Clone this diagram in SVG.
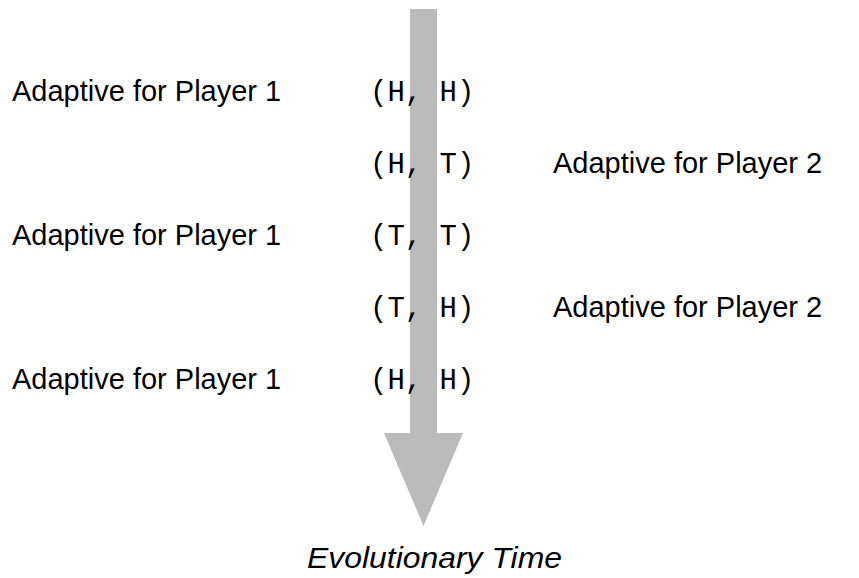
<svg xmlns="http://www.w3.org/2000/svg" width="859" height="578" viewBox="0 0 859 578">
<style>
.lbl{font-family:"Liberation Sans",Arial,sans-serif;font-size:29px;fill:#000}
.pair{font-family:"Liberation Mono","Courier New",monospace;font-size:29px;fill:#000}
.time{font-family:"Liberation Sans",Arial,sans-serif;font-size:30px;font-style:italic;fill:#000}
</style>
<rect width="859" height="578" fill="#fff"/>
<g id="arrow">
<rect x="410" y="9" width="27" height="425" fill="#bbbbbb"/>
<polygon points="384,433 463,433 423.5,526" fill="#bbbbbb"/>
</g>
<g id="connectors"></g>
<g id="row1"><text class="lbl" x="12" y="101">Adaptive for Player 1</text><text class="pair" x="370" y="101">(H, H)</text></g>
<g id="row2"><text class="pair" x="370" y="173">(H, T)</text><text class="lbl" x="553" y="173">Adaptive for Player 2</text></g>
<g id="row3"><text class="lbl" x="12" y="245">Adaptive for Player 1</text><text class="pair" x="370" y="245">(T, T)</text></g>
<g id="row4"><text class="pair" x="370" y="317">(T, H)</text><text class="lbl" x="553" y="317">Adaptive for Player 2</text></g>
<g id="row5"><text class="lbl" x="12" y="389">Adaptive for Player 1</text><text class="pair" x="370" y="389">(H, H)</text></g>
<g id="caption"><text class="time" x="307" y="568" textLength="255" lengthAdjust="spacingAndGlyphs">Evolutionary Time</text></g>
</svg>
